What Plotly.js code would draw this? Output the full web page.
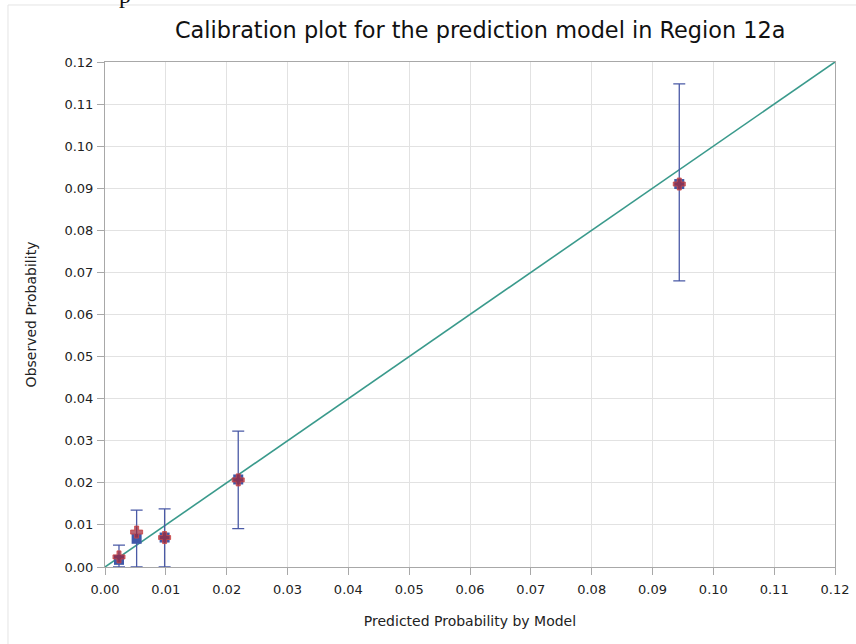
<!DOCTYPE html>
<html>
<head>
<meta charset="utf-8">
<script src="https://cdn.plot.ly/plotly-3.0.1.min.js"></script>
<style>html,body{margin:0;padding:0;background:#fff;}#chart{width:856px;height:644px;}</style>
</head>
<body>
<div id="chart"></div>
<script>
// Data
var predicted = [0.0023, 0.0052, 0.0098, 0.0219, 0.0944];
var observedBlue = [0.0017, 0.0067, 0.0070, 0.0208, 0.0910];
var observedRed = [0.0024, 0.0083, 0.0070, 0.0207, 0.0910];
var upperCI = [0.0052, 0.0135, 0.0138, 0.0323, 0.1148];
var lowerCI = [0.0000, 0.0000, 0.0000, 0.0091, 0.0680];
var refLine = [0, 0.12];
var tickVals = [0, 0.01, 0.02, 0.03, 0.04, 0.05, 0.06, 0.07, 0.08, 0.09, 0.10, 0.11, 0.12];
var tickText = ['0.00','0.01','0.02','0.03','0.04','0.05','0.06','0.07','0.08','0.09','0.10','0.11','0.12'];

var errPlus = upperCI.map(function(u,i){return u - observedBlue[i];});
var errMinus = lowerCI.map(function(l,i){return observedBlue[i] - l;});

var FONT = 'DejaVu Sans, sans-serif';

var traces = [
  {x: refLine, y: refLine, mode: 'lines', line: {color: '#3a9a8c', width: 1.6}, hoverinfo: 'skip'},
  {x: predicted, y: observedBlue, mode: 'markers',
   marker: {symbol: 'square', size: 10, color: '#3f58a8'},
   error_y: {type: 'data', symmetric: false, array: errPlus, arrayminus: errMinus,
             color: '#4a5aa6', thickness: 1.3, width: 6}},
  {x: predicted, y: observedRed, mode: 'markers',
   marker: {symbol: 'cross', size: 10, color: 'rgba(160,40,60,0.72)', line: {color: 'rgba(205,70,70,0.85)', width: 1}}}
];

var axisCommon = {
  range: [0, 0.12], tickvals: tickVals, ticktext: tickText,
  showgrid: true, gridcolor: '#e2e2e2', gridwidth: 1,
  zeroline: false, showline: true, linecolor: '#a8a8a8', linewidth: 1, mirror: true,
  ticks: 'outside', ticklen: 7, tickcolor: '#a8a8a8',
  tickfont: {family: FONT, size: 13, color: '#222'}
};

var layout = {
  width: 856, height: 644,
  margin: {l: 105, r: 21, t: 62, b: 77},
  paper_bgcolor: '#fff', plot_bgcolor: '#fff',
  showlegend: false,
  title: {text: 'Calibration plot for the prediction model in Region 12a',
          font: {family: FONT, size: 22.4, color: '#111'},
          x: 0.561, xanchor: 'center', y: 0.953, yanchor: 'middle'},
  xaxis: Object.assign({}, axisCommon, {
    ticklabelstandoff: 3,
    title: {text: 'Predicted Probability by Model', standoff: 20,
            font: {family: FONT, size: 14, color: '#222'}}
  }),
  yaxis: Object.assign({}, axisCommon, {
    ticklabelstandoff: 1,
    title: {text: 'Observed Probability', standoff: 24,
            font: {family: FONT, size: 14, color: '#222'}}
  }),
  annotations: [
    {text: 'p', xref: 'paper', yref: 'paper', x: 0.016, y: 1.103, xanchor: 'left', yanchor: 'bottom',
     showarrow: false, font: {family: 'Liberation Serif, serif', size: 24, color: '#111'}}
  ],
  shapes: [
    {type: 'line', xref: 'paper', yref: 'paper', x0: -0.1329, x1: 1.03, y0: 1.1129, y1: 1.1129,
     line: {color: '#e4e4e4', width: 1}},
    {type: 'line', xref: 'paper', yref: 'paper', x0: -0.1329, x1: -0.1329, y0: 1.1129, y1: -0.16,
     line: {color: '#e4e4e4', width: 1}}
  ]
};

Plotly.newPlot('chart', traces, layout, {displayModeBar: false, staticPlot: true});
</script>
</body>
</html>
